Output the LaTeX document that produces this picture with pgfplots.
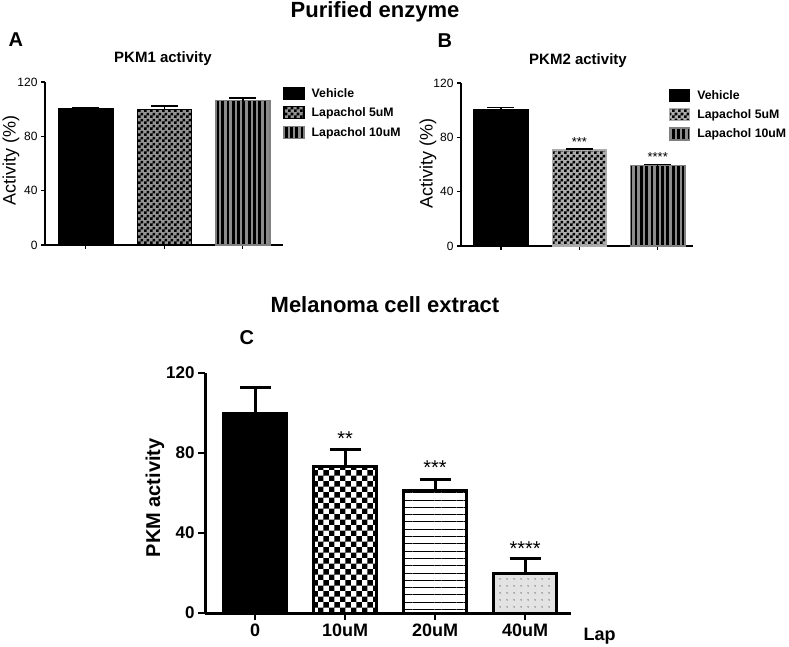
\documentclass[border=0pt]{standalone}
\usepackage{fontspec}
\setmainfont{Liberation Sans}
\usepackage{pgfplots}
\pgfplotsset{compat=1.18}
\usetikzlibrary{patterns,patterns.meta}

\pgfdeclarepatternformonly{checkS}{\pgfqpoint{0pt}{0pt}}{\pgfqpoint{6pt}{6pt}}{\pgfqpoint{6pt}{6pt}}{%
  \pgfpathrectangle{\pgfqpoint{0pt}{0pt}}{\pgfqpoint{3pt}{3pt}}%
  \pgfpathrectangle{\pgfqpoint{3pt}{3pt}}{\pgfqpoint{3pt}{3pt}}%
  \pgfusepath{fill}}
\pgfdeclarepatternformonly{checkL}{\pgfqpoint{0pt}{0pt}}{\pgfqpoint{11.4pt}{11.4pt}}{\pgfqpoint{11.4pt}{11.4pt}}{%
  \pgfpathrectangle{\pgfqpoint{0pt}{0pt}}{\pgfqpoint{5.7pt}{5.7pt}}%
  \pgfpathrectangle{\pgfqpoint{5.7pt}{5.7pt}}{\pgfqpoint{5.7pt}{5.7pt}}%
  \pgfusepath{fill}}

\pgfplotsset{
  /pgf/number format/assume math mode=true,
  boxlegend/.style={legend image code/.code={\draw[##1] (0pt,-6pt) rectangle (20pt,6pt);}},
  small/.style={
    scale only axis, anchor=south west, clip=false,
    ymin=0, ymax=120, ytick={0,40,80,120},
    axis x line*=bottom, axis y line*=left,
    axis line style={-, line width=1.3pt},
    tick align=outside, major tick length=4pt,
    tick style={line width=1.1pt, black},
    xtick={0,1,2}, xticklabels={},
    ybar, bar width=0.69, bar shift=0pt,
    yticklabel style={font=\fontsize{12}{14}\selectfont},
    ylabel style={font=\fontsize{18}{20}\selectfont, anchor=center},
    legend style={draw=none, fill=none, font=\bfseries\fontsize{12.3}{14}\selectfont,
      row sep=5pt, inner sep=0pt, anchor=north west,
      /tikz/every odd column/.append style={column sep=5pt}},
    legend cell align=left,
    error bars/y dir=plus, error bars/y explicit,
    error bars/error mark options={rotate=90, black, mark size=13.5pt, line width=1.5pt},
    error bars/error bar style={black, line width=1.5pt},
  },
}

\begin{document}
\begin{tikzpicture}
\useasboundingbox (0pt,0pt) rectangle (789pt,646pt);

% Titles
\node[anchor=base, font=\bfseries\fontsize{22}{26}\selectfont] at (375pt,628.5pt) {Purified enzyme};
\node[anchor=base west, font=\bfseries\fontsize{20}{24}\selectfont] at (5pt,599pt) {A};
\node[anchor=base, font=\bfseries\fontsize{15}{18}\selectfont] at (163pt,583pt) {PKM1 activity};
\node[anchor=base west, font=\bfseries\fontsize{20}{24}\selectfont] at (434pt,598pt) {B};
\node[anchor=base, font=\bfseries\fontsize{15}{18}\selectfont] at (578pt,581pt) {PKM2 activity};
\node[anchor=base, font=\bfseries\fontsize{22}{26}\selectfont] at (385pt,334pt) {Melanoma cell extract};
\node[anchor=base west, font=\bfseries\fontsize{20}{24}\selectfont] at (236pt,302pt) {C};

% Panel A
\begin{axis}[small, at={(45pt,401pt)}, width=238pt, height=163pt,
  xmin=-0.52, xmax=2.51,
  ylabel={Activity (\%)},
  ylabel style={at={(axis description cs:-0.143,0.52)}},
  legend style={at={(axis description cs:1.0,0.975)}}]
\addplot[fill=black, draw=black, line width=1.5pt, boxlegend] coordinates {(0,100) +- (0,1.3)};
\addplot[fill=gray!85, draw=black, line width=1.2pt, boxlegend,
  postaction={pattern=checkS, pattern color=black}] coordinates {(1,99.5) +- (0,2.8)};
\addplot[fill=gray!90, draw=gray, line width=1.5pt, boxlegend,
  postaction={pattern={Lines[angle=90,distance=5.3pt,line width=2.8pt]}, pattern color=black}] coordinates {(2,106.3) +- (0,1.8)};
\legend{Vehicle, Lapachol 5uM, Lapachol 10uM}
\end{axis}

% Panel B
\begin{axis}[small, at={(461pt,400pt)}, width=232pt, height=163pt,
  xmin=-0.51, xmax=2.45,
  ylabel={Activity (\%)},
  ylabel style={at={(axis description cs:-0.142,0.506)}},
  legend style={at={(axis description cs:0.895,0.97)}}]
\addplot[fill=black, draw=black, line width=1.5pt, boxlegend] coordinates {(0,100) +- (0,1.8)};
\addplot[fill=gray!65, draw=gray!65, line width=1.5pt, boxlegend,
  postaction={pattern=checkS, pattern color=black}] coordinates {(1,70.5) +- (0,0.8)};
\addplot[fill=gray!90, draw=gray, line width=1.5pt, boxlegend,
  postaction={pattern={Lines[angle=90,distance=5.3pt,line width=2.8pt]}, pattern color=black}] coordinates {(2,59.2) +- (0,0.8)};
\legend{Vehicle, Lapachol 5uM, Lapachol 10uM}
\node[anchor=base, font=\fontsize{13}{15}\selectfont] at (axis cs:1,73.3) {***};
\node[anchor=base, font=\fontsize{13}{15}\selectfont] at (axis cs:2,62.2) {****};
\end{axis}

% Panel C
\begin{axis}[scale only axis, anchor=south west, clip=false,
  at={(205pt,33pt)}, width=366pt, height=240pt,
  xmin=-0.556, xmax=3.51, ymin=0, ymax=120, ytick={0,40,80,120},
  xtick={0,1,2,3}, xticklabels={0,10uM,20uM,40uM},
  axis x line*=bottom, axis y line*=left,
  axis line style={-, line width=3pt},
  tick align=outside, major tick length=7pt,
  tick style={line width=2.5pt, black},
  ybar, bar width=0.7, bar shift=0pt,
  yticklabel style={font=\bfseries\fontsize{17}{20}\selectfont},
  xticklabel style={font=\bfseries\fontsize{18}{21}\selectfont},
  ylabel={PKM activity},
  ylabel style={font=\bfseries\fontsize{20}{24}\selectfont, anchor=center, at={(axis description cs:-0.137,0.48)}},
  error bars/y dir=plus, error bars/y explicit,
  error bars/error mark options={rotate=90, black, mark size=15.5pt, line width=3pt},
  error bars/error bar style={black, line width=3pt}]
\addplot[fill=black, draw=black, line width=3pt] coordinates {(0,100) +- (0,13)};
\addplot[fill=white, draw=black, line width=3pt,
  postaction={pattern=checkL, pattern color=black}] coordinates {(1,73.5) +- (0,8.3)};
\addplot[fill=white, draw=black, line width=3pt,
  postaction={pattern={Lines[angle=0,distance=7.3pt,line width=0.9pt]}, pattern color=black}] coordinates {(2,61.2) +- (0,5.8)};
\addplot[fill=gray!22, draw=black, line width=3pt,
  postaction={pattern={Dots[distance=6.5pt,radius=0.6pt]}, pattern color=black}] coordinates {(3,19.8) +- (0,7.4)};
\node[anchor=base, font=\fontsize{20}{24}\selectfont] at (axis cs:1,84) {**};
\node[anchor=base, font=\fontsize{20}{24}\selectfont] at (axis cs:2,69.5) {***};
\node[anchor=base, font=\fontsize{20}{24}\selectfont] at (axis cs:3,29) {****};
\end{axis}
\node[anchor=base west, font=\bfseries\fontsize{18}{21}\selectfont] at (580pt,6pt) {Lap};
\end{tikzpicture}
\end{document}
